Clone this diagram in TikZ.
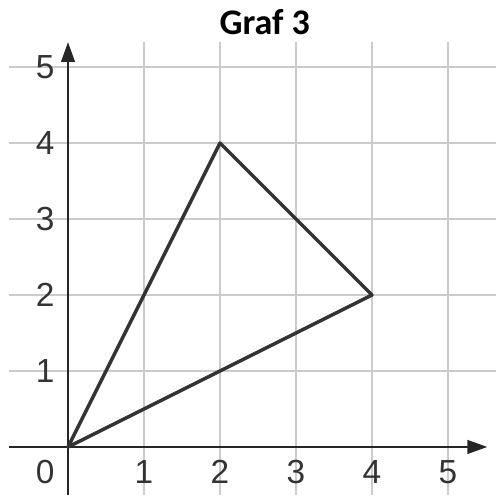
\documentclass[tikz,border=0pt]{standalone}
\usepackage{fontspec}
\setmainfont{Liberation Sans}
\newfontfamily\titlefont{Carlito}
\usepackage{xcolor}
\usepackage{tikz}
\usetikzlibrary{positioning, arrows.meta}

\definecolor{gridgray}{HTML}{CCCCCC}
\definecolor{edgegray}{HTML}{333333}
\definecolor{labelgray}{HTML}{333333}

\begin{document}
\begin{tikzpicture}[
    gridline/.style={draw=gridgray, line width=0.6pt},
    axisline/.style={draw=black!85, line width=1.1pt, -{Triangle[length=7.5pt, width=5pt]}},
    edge/.style={draw=edgegray, line width=1.3pt, line join=round},
    ticklabel/.style={text=labelgray, font=\fontsize{12.5}{14}\selectfont, inner sep=0pt}
  ]
      \useasboundingbox (-0.895,-0.632) rectangle (5.632,5.882);

      % grid
      \foreach \y in {1,...,5}
        \draw[gridline] (-0.776,\y) -- (5.632,\y);
      \foreach \x in {1,...,5}
        \draw[gridline] (\x,-0.632) -- (\x,5.33);

      % axes
      \coordinate (xstart) at (-0.776,0);
      \coordinate (xend) at (5.52,0);
      \coordinate (ystart) at (0,-0.632);
      \coordinate (yend) at (0,5.33);
      \draw[axisline] (xstart) -- (xend);
      \draw[axisline] (ystart) -- (yend);

      % tick labels
      \node[ticklabel] (l0) at (-0.30,-0.33) {0};
      \foreach \x in {1,...,5}
        \node[ticklabel] (lx\x) at (\x,-0.33) {\x};
      \foreach \y in {1,...,5}
        \node[ticklabel] (ly\y) at (-0.30,\y) {\y};

      % triangle
      \coordinate (pa) at (0,0);
      \coordinate (pb) at (2,4);
      \coordinate (pc) at (4,2);
      \draw[edge] (pa) -- (pb) -- (pc) -- cycle;

      \node[font=\titlefont\bfseries\fontsize{13.5}{15}\selectfont, inner sep=0pt] (title) at (2.59,5.59) {Graf 3};
    \end{tikzpicture}
\end{document}
